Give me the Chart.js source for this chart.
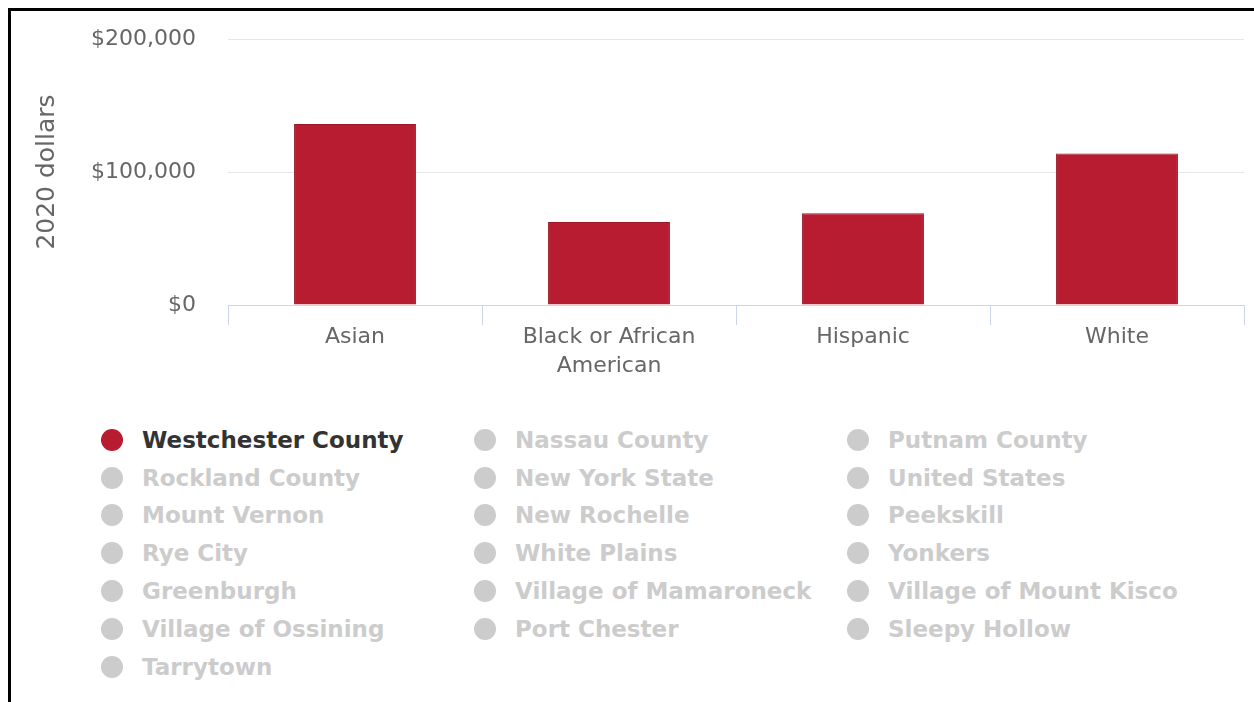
<!DOCTYPE html>
<html>
<head>
<meta charset="utf-8">
<script src="https://cdn.jsdelivr.net/npm/chart.js@4"></script>
<style>
  html, body { margin: 0; padding: 0; background: #fff; }
  body { width: 1254px; height: 702px; position: relative; overflow: hidden; font-family: "DejaVu Sans", Verdana, sans-serif; }
  #frame { position: absolute; left: 8px; top: 8px; right: -10px; bottom: -10px; border-left: 3px solid #000; border-top: 3px solid #000; }
  #chart { position: absolute; left: 0; top: 0; }
  #legend { position: absolute; left: 101px; top: 421px; width: 1140px; display: grid; grid-template-columns: 373px 373px 373px; grid-auto-rows: 37.8px; }
  .item { display: flex; align-items: center; font-weight: bold; font-size: 23px; color: #cccccc; white-space: nowrap; cursor: pointer; }
  .dot { width: 22px; height: 22px; border-radius: 50%; background: #cccccc; margin-right: 19px; flex: none; }
  .item.on { color: #333333; }
  .item.on .dot { background: #b71c30; }
</style>
</head>
<body>
<div id="frame"></div>
<canvas id="chart" width="1254" height="400"></canvas>
<div id="legend"></div>
<script>
// data
const categories = ['Asian', ['Black or African', 'American'], 'Hispanic', 'White'];
const westchester = [136000, 62500, 69000, 114000];
const regions = [
    'Westchester County', 'Nassau County', 'Putnam County',
    'Rockland County', 'New York State', 'United States',
    'Mount Vernon', 'New Rochelle', 'Peekskill',
    'Rye City', 'White Plains', 'Yonkers',
    'Greenburgh', 'Village of Mamaroneck', 'Village of Mount Kisco',
    'Village of Ossining', 'Port Chester', 'Sleepy Hollow',
    'Tarrytown'
];
const yTicks = [0, 100000, 200000];
const barColor = '#b71c30';

document.addEventListener('DOMContentLoaded', function() {
    const ctx = document.getElementById('chart');

    // only Westchester County is shown in the picture, the others are switched off
    const datasets = regions.map(function(name, i) {
        return {
            label: name,
            data: i === 0 ? westchester : [],
            hidden: i !== 0,
            backgroundColor: barColor,
            borderColor: '#9c1828',
            borderWidth: 1,
            barPercentage: 0.48,
            categoryPercentage: 1
        };
    });

    const chart = new Chart(ctx, {
        type: 'bar',
        data: {
            labels: categories,
            datasets: datasets
        },
        options: {
            responsive: false,
            animation: false,
            devicePixelRatio: 1,
            layout: {
                padding: { left: 30, top: 39, right: 10, bottom: 0 }
            },
            plugins: {
                legend: { display: false },
                tooltip: { enabled: false }
            },
            scales: {
                x: {
                    grid: {
                        display: true,
                        offset: true,
                        drawOnChartArea: false,
                        drawTicks: true,
                        tickLength: 20,
                        color: '#ccd6eb'
                    },
                    border: { display: true, color: '#ccd6eb', width: 1 },
                    ticks: {
                        color: '#666666',
                        padding: -2,
                        font: { family: 'DejaVu Sans', size: 22, lineHeight: 1.32 },
                        maxRotation: 0
                    },
                    afterFit: function(scale) { scale.height = 95; }
                },
                y: {
                    min: yTicks[0],
                    max: yTicks[yTicks.length - 1],
                    afterBuildTicks: function(scale) {
                        scale.ticks = yTicks.map(function(v) { return { value: v }; });
                    },
                    grid: { color: '#e6e6e6', drawTicks: false, lineWidth: 1 },
                    border: { display: false },
                    ticks: {
                        color: '#666666',
                        padding: 32,
                        font: { family: 'DejaVu Sans', size: 22 },
                        callback: function(v) { return '$' + v.toLocaleString('en-US'); }
                    },
                    title: {
                        display: true,
                        text: '2020 dollars',
                        color: '#666666',
                        padding: { top: 2, bottom: 4 },
                        font: { family: 'DejaVu Sans', size: 25 }
                    },
                    afterFit: function(scale) {
                        scale.width = 198;
                        // tick padding should not push the plot down
                        scale.paddingTop = 0;
                        scale.paddingBottom = 0;
                    }
                }
            }
        }
    });

    // legend in three columns, like the original
    const legend = document.getElementById('legend');
    chart.data.datasets.forEach(function(ds, i) {
        const item = document.createElement('div');
        item.className = 'item' + (chart.isDatasetVisible(i) ? ' on' : '');
        item.innerHTML = '<span class="dot"></span><span></span>';
        item.lastChild.textContent = ds.label;
        item.addEventListener('click', function() {
            chart.setDatasetVisibility(i, !chart.isDatasetVisible(i));
            chart.update();
            item.classList.toggle('on', chart.isDatasetVisible(i));
        });
        legend.appendChild(item);
    });
});
</script>
</body>
</html>
